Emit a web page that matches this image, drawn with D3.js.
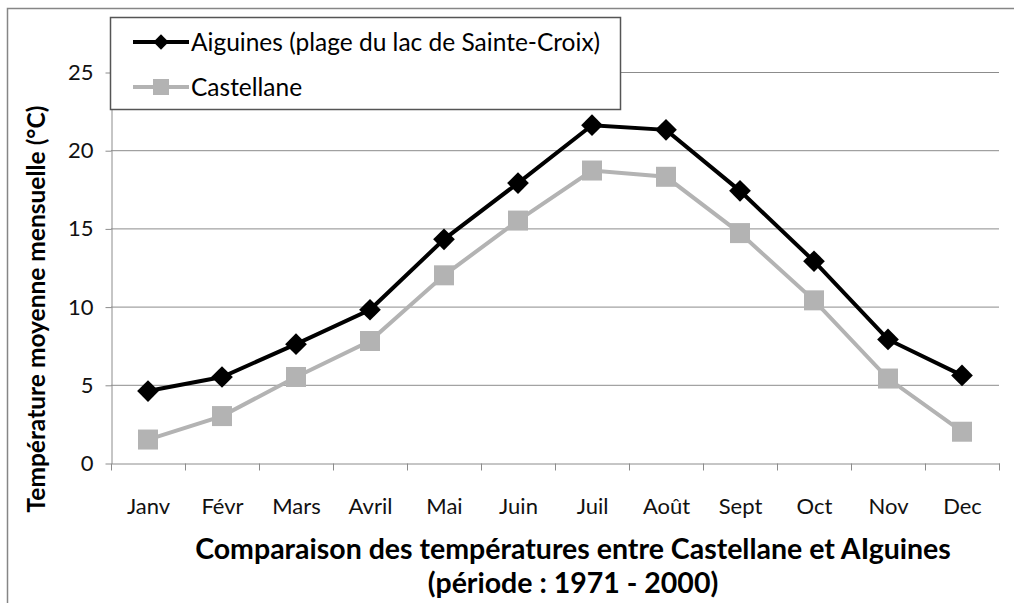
<!DOCTYPE html>
<html>
<head>
<meta charset="utf-8">
<script src="https://cdn.jsdelivr.net/npm/d3@7"></script>
<style>
body { margin: 0; background: #fff; }
text { font-family: Lato, "Open Sans", sans-serif; }
</style>
</head>
<body>
<script>
// data
var months = ["Janv", "Févr", "Mars", "Avril", "Mai", "Juin", "Juil", "Août", "Sept", "Oct", "Nov", "Dec"];
var aiguines = [4.6, 5.5, 7.6, 9.8, 14.3, 17.9, 21.6, 21.3, 17.4, 12.9, 7.9, 5.6];
var castellane = [1.5, 3.0, 5.5, 7.8, 12.0, 15.5, 18.7, 18.3, 14.7, 10.4, 5.4, 2.0];
var yTicks = [0, 5, 10, 15, 20, 25];

var width = 1014, height = 603;
var svg = d3.select("body").append("svg")
  .attr("width", width)
  .attr("height", height);

// outer frame
svg.append("rect")
  .attr("x", 7.5).attr("y", 8.5)
  .attr("width", 1030).attr("height", 620)
  .attr("fill", "#fff").attr("stroke", "#868686").attr("stroke-width", 1.5);

var pLeft = 111, pRight = 999, pTop = 72, pBottom = 463;
var x = d3.scaleBand().domain(months).range([pLeft, pRight]);
var y = d3.scaleLinear().domain([0, 25]).range([pBottom, pTop]);

// gridlines
svg.append("g").selectAll("line")
  .data(yTicks.filter(function(d) { return d > 0; })).enter().append("line")
  .attr("x1", pLeft).attr("x2", pRight)
  .attr("y1", function(d) { return y(d) + 0.5; })
  .attr("y2", function(d) { return y(d) + 0.5; })
  .attr("stroke", "#8c8c8c").attr("stroke-width", 1);

// y axis
var yAxis = svg.append("g")
  .attr("transform", "translate(" + (pLeft + 0.5) + ",0.5)")
  .call(d3.axisLeft(y).tickValues(yTicks).tickSize(6).tickPadding(12).tickSizeOuter(0));
yAxis.select(".domain").attr("stroke", "#8c8c8c");
yAxis.selectAll(".tick line").attr("stroke", "#8c8c8c");
yAxis.selectAll(".tick text").attr("font-size", 22).attr("fill", "#111")
  .attr("font-family", "Lato, 'Open Sans', sans-serif");

// x axis
var xAxis = svg.append("g")
  .attr("transform", "translate(0.5," + (pBottom + 0.5) + ")")
  .call(d3.axisBottom(x).tickSize(0).tickPadding(35).tickSizeOuter(0));
xAxis.select(".domain").attr("stroke", "#8c8c8c");
xAxis.selectAll(".tick text").attr("font-size", 22).attr("fill", "#111")
  .attr("font-family", "Lato, 'Open Sans', sans-serif");
// category separators
xAxis.selectAll(".sep")
  .data(months.concat(["end"])).enter().append("line")
  .attr("x1", function(d, i) { return pLeft + i * x.bandwidth(); })
  .attr("x2", function(d, i) { return pLeft + i * x.bandwidth(); })
  .attr("y1", 0).attr("y2", 7)
  .attr("stroke", "#8c8c8c");

var cx = function(d, i) { return x(months[i]) + x.bandwidth() / 2; };
var line = d3.line().x(cx).y(function(d) { return y(d); });

// Castellane (grey squares)
svg.append("path").datum(castellane)
  .attr("d", line).attr("fill", "none")
  .attr("stroke", "#b3b3b3").attr("stroke-width", 4);
svg.selectAll(".sq").data(castellane).enter().append("rect")
  .attr("x", function(d, i) { return cx(d, i) - 10; })
  .attr("y", function(d) { return y(d) - 10; })
  .attr("width", 20).attr("height", 20)
  .attr("fill", "#b3b3b3");

// Aiguines (black diamonds)
svg.append("path").datum(aiguines)
  .attr("d", line).attr("fill", "none")
  .attr("stroke", "#000").attr("stroke-width", 4);
var diamond = d3.symbol().type(d3.symbolDiamond2).size(300);
svg.selectAll(".dm").data(aiguines).enter().append("path")
  .attr("d", diamond)
  .attr("transform", function(d, i) { return "translate(" + cx(d, i) + "," + y(d) + ")"; })
  .attr("fill", "#000");

// legend
var lg = svg.append("g");
lg.append("rect")
  .attr("x", 110.5).attr("y", 17.5).attr("width", 510).attr("height", 92)
  .attr("fill", "#fff").attr("stroke", "#555").attr("stroke-width", 1.5);
var legendItems = [
  {name: "Aiguines (plage du lac de Sainte-Croix)", color: "#000", type: "diamond"},
  {name: "Castellane", color: "#b3b3b3", type: "square"}
];
legendItems.forEach(function(it, i) {
  var ly = 42 + i * 45;
  lg.append("line").attr("x1", 133).attr("x2", 189).attr("y1", ly).attr("y2", ly)
    .attr("stroke", it.color).attr("stroke-width", 4);
  if (it.type === "diamond") {
    lg.append("path").attr("d", d3.symbol().type(d3.symbolDiamond2).size(150))
      .attr("transform", "translate(161," + ly + ")").attr("fill", it.color);
  } else {
    lg.append("rect").attr("x", 153).attr("y", ly - 8).attr("width", 16).attr("height", 16)
      .attr("fill", it.color);
  }
  lg.append("text").attr("x", 191).attr("y", ly).attr("dy", "0.35em")
    .attr("font-size", 24.5).text(it.name);
});

// y axis title
svg.append("text")
  .attr("transform", "translate(45,309) rotate(-90)")
  .attr("text-anchor", "middle")
  .attr("font-size", 24.5).attr("font-weight", "bold")
  .text("Température moyenne mensuelle (°C)");

// chart title (below)
svg.append("text").attr("x", 573).attr("y", 559)
  .attr("text-anchor", "middle").attr("font-size", 28.5).attr("font-weight", "bold")
  .text("Comparaison des températures entre Castellane et AIguines");
svg.append("text").attr("x", 573).attr("y", 593)
  .attr("text-anchor", "middle").attr("font-size", 28.5).attr("font-weight", "bold")
  .text("(période : 1971 - 2000)");
</script>
</body>
</html>
